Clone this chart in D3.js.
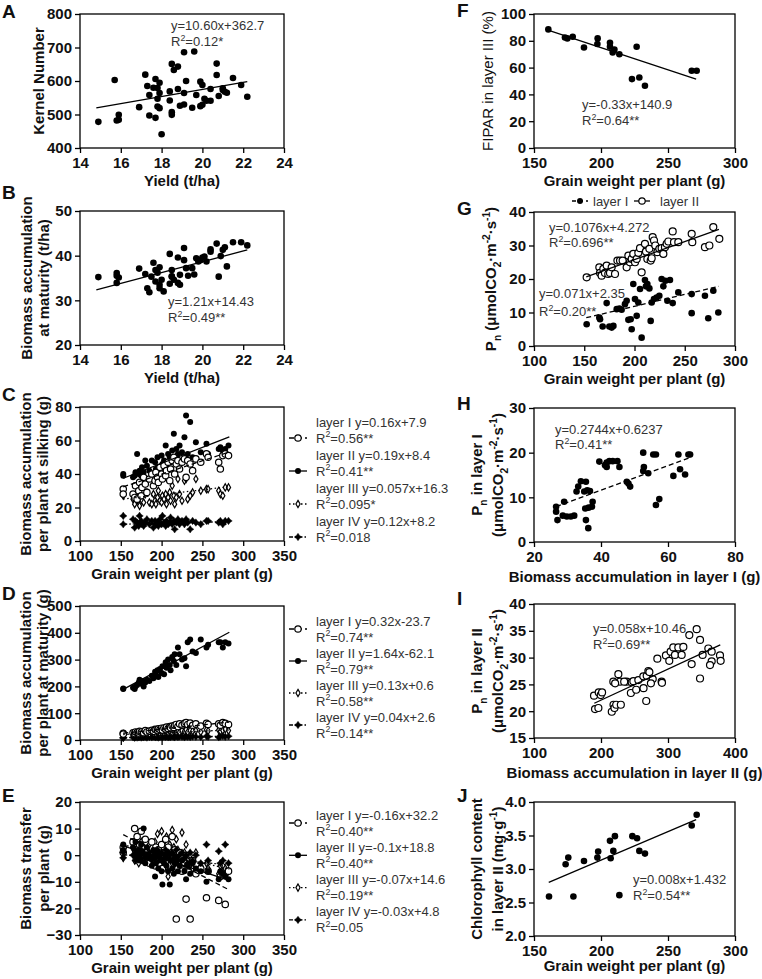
<!DOCTYPE html>
<html><head><meta charset="utf-8">
<script src="https://cdn.jsdelivr.net/npm/d3@7"></script>
<style>body{margin:0;background:#fff}</style>
</head><body><svg id="chart" width="762" height="979"></svg>
<script>
// ---------------- DATA ----------------
const aYield = [14.9,15.7,15.8,15.9,15.9,16.9,17.2,17.3,17.4,17.4,17.6,17.7,17.7,17.8,17.8,17.8,17.9,17.9,17.9,18.0,18.4,18.4,18.5,18.5,18.5,18.6,18.8,18.8,18.9,19.1,19.1,19.1,19.2,19.5,19.6,19.7,19.9,19.9,20.0,20.0,20.1,20.2,20.4,20.4,20.7,20.7,20.8,21.0,21.0,21.1,21.2,21.5,21.9,22.2];
const aKernel = [478,603,482,484,499,522,619,585,558,497,580,606,490,579,524,547,595,519,564,441,569,542,507,499,651,633,643,576,526,530,564,686,600,520,688,558,525,598,588,529,547,541,576,541,618,652,555,578,573,568,565,609,588,553];
const bYield = [14.9,15.8,15.8,15.9,15.8,16.9,17.2,17.3,17.4,17.5,17.6,17.7,17.7,17.8,17.9,17.9,17.9,18.0,18.1,18.4,18.4,18.5,18.5,18.5,18.6,18.8,18.8,18.9,18.9,19.1,19.1,19.2,19.3,19.5,19.6,19.7,19.8,19.9,20.0,20.1,20.2,20.4,20.4,20.7,20.8,20.9,21.0,21.1,21.2,21.5,21.9,22.2];
const bBiomass = [35.2,35.5,36.1,35.1,33.9,37.1,35.9,32.7,31.8,35.3,38.4,36.8,34.2,36.2,37.4,32.7,33.5,34.6,32.0,33.7,40.4,35.3,36.8,35.4,34.6,39.6,33.9,33.5,35.7,41.7,39.0,37.2,35.5,37.2,35.8,39.4,38.7,39.0,39.6,39.8,38.7,40.9,41.4,42.7,35.3,39.9,41.3,41.9,37.6,43.0,43.0,42.3];

// grain weight per plant shared by panels C-E
const gw = [153,153,165,167,168,170,172,173,175,176,178,180,182,185,188,190,192,193,195,196,198,200,201,203,205,206,208,210,211,213,215,216,218,220,222,225,228,230,232,235,238,242,248,255,257,270,272,275,278,282];
const cL1 = [31,28,28,26,33,25,30,35,27,32,38,34,29,37,40,33,36,41,38,35,44,40,37,45,39,42,47,36,43,48,50,40,46,48,43,47,49,38,48,46,42,49,47,52,50,47,43,51,52,51];
const cL2 = [39,40,38,39,41,52,40,42,39,44,41,48,45,42,48,40,47,43,50,44,42,51,46,48,57,44,52,50,47,54,64,48,55,52,57,53,62,75,52,71,50,59,53,58,52,55,56,54,55,57];
const cL3 = [29,27,25,22,26,24,27,21,26,24,23,28,29,23,22,28,24,22,26,30,24,23,27,25,28,22,26,29,24,33,27,22,26,37,28,24,36,37,25,27,29,37,30,31,31,30,28,27,32,32];
const cL4 = [15,10,13,8,12,11,9,15,12,10,9,11,13,10,12,8,12,10,11,9,13,10,15,11,9,12,10,11,14,10,12,7,11,13,10,12,10,13,11,7,12,11,10,12,12,11,12,10,12,12];
const dL1 = [25,22,27,24,30,28,26,32,29,31,27,35,30,33,36,32,40,38,35,42,39,44,37,45,41,48,43,50,46,52,47,55,58,50,60,55,62,65,58,63,55,60,52,62,58,60,55,65,62,58];
const dL2 = [190,192,195,190,200,205,215,225,210,220,200,215,225,220,240,230,255,245,260,235,265,250,275,245,290,270,300,280,260,310,295,320,280,345,320,300,305,275,365,375,330,325,375,345,355,365,365,345,365,360];
const dL3 = [22,18,20,23,22,19,24,21,23,25,22,26,24,23,27,25,28,24,27,30,26,28,32,27,29,31,28,33,30,28,32,35,30,33,29,35,32,38,30,36,33,35,30,38,34,37,33,36,40,35];
const dL4 = [9,7,10,8,11,9,10,12,9,11,10,12,9,11,10,13,11,10,12,9,11,13,10,12,11,14,10,12,11,13,12,10,14,11,13,12,10,14,12,11,13,12,11,14,12,10,13,15,12,14];
const eL1 = [3,1,5,10,2,7,-1,4,9,3,-2,6,1,-3,5,0,-4,3,-1,2,-3,4,-5,1,6,-2,3,-4,0,7,-3,2,-24,-5,1,-6,-3,-16.5,-4,-24,-2,-7,-5,-16,-6,-17,-8,-7,-18.5,-6];
const eL2 = [4,2,3,0,5,-1,2,-2,4,1,10,-3,3,-1,-4,2,-8,-3,1,-5,-2,-6,-11,-3,0,-4,-6,-11,-2,-5,-7,-3,-1,-6,-4,-2,-6,-9,-4,-7,-3,-5,-6,-10,-6,-9,-6,-7,-8,-9];
const eL3 = [2,-1,3,-2,4,1,-3,2,5,-1,3,0,-2,4,1,-3,5,2,8,-1,3,9,0,5,-2,7,-8,4,1,9.5,3,-1,6,2,-3,8.5,1,4,-2,0,-5,1,-4,-3,-5,-7,-4,-6,-5,-6];
const eL4 = [1,-1,0,2,-2,1,-1,0,2,-2,1,-1,0,1,-2,0,1,-1,2,0,-1,1,-2,0,2,-1,1,0,-2,1,0,-1,2,-2,0,1,-1,0,-3,1,-2,0,-3,4,-2,1.5,-3,-2,4,-3];

const fGW = [160.7,173.1,174.9,178.9,187.3,197.5,197.3,206.7,206.7,208.7,210,213.7,223.1,226.6,228.6,232.8,267.7,271.4];
const fFIPAR = [88.5,82.5,81.8,83,75,81.8,77.6,78.5,75.6,71.3,73.5,70,51.4,75.6,52.6,46.4,57.6,57.6];

const gGW1 = [152.4,165,165.7,168.3,172.3,175,177.3,179,182.3,185,187.2,190.5,192.2,193.9,196.2,197.2,198.8,200.5,202.2,203.8,205.5,207.1,210.4,211.4,212.8,214.8,216.1,217.1,219.4,222,224.7,227,228.7,230.7,232.7,235.3,238,243.6,256.9,256.9,270.1,273.4,278.4,283.4];
const gPn1 = [6.5,8.5,8,5.8,12.8,5.8,5.5,6,11,11.2,10.8,12.5,13.5,7.8,8,5,18.5,14,9,13,17,2.5,19.7,17.8,18.5,17.2,7.5,13,14,14.5,15,20,17.8,19.5,13.5,19.7,12.8,16,15.5,9.8,15,8.3,16.5,10];
const gGW2 = [152.4,165,165.7,167.3,169,170.6,172.3,173.9,175.6,177.3,180.6,183,185.6,188.2,192.2,193.9,195.5,197.2,198.8,200.5,202.2,203.8,205.5,207.1,210.4,211.4,212.8,214.8,216.1,217.1,218.1,219.4,220.7,222.7,224.7,227,228.7,230.3,232,233.7,238,239.3,243.6,256.9,257.5,270.1,274.5,278.4,284.4];
const gPn2 = [20.5,23.5,21.8,21,23,21.8,24,21.5,21.8,23.5,21.5,25.5,25.5,25.5,23.5,27,25,26,27.5,25,26,27.8,29.2,22,30.5,28.2,26,29,25.5,26.2,32.5,31.5,30,28,29,29.2,27.5,29.5,30.5,31.2,34.2,31,31,33.5,31,29.5,30,35.5,32];

const hBio = [26.6,29,32.7,33.2,34,35.5,35,35.9,36.7,37.5,35.3,36.3,37.3,39.5,41.2,41.7,42.5,43.5,44.9,45.5,41.7,47.7,48.2,48.7,52.6,52.8,52.6,54.1,55.6,56.4,56.4,57.4,61.6,63.1,63.6,65.1,66.1,66.6,26.6,27,28.6,29.8,31,32,35.5,36.2];
const hPn = [7.9,9.0,11.3,12.4,13.6,13.5,11.3,11.6,11.4,9.0,7.5,7.7,7.9,18,17.2,17.8,18.1,18.1,18.1,16.8,16.8,13.5,13.1,12.4,20,16.8,15.9,15.4,19.6,19.6,8.3,9.6,14.8,19.6,16.3,15.1,19.6,19.6,6.8,4.9,5.9,5.7,5.7,5.9,4.9,3.1];

const iBio = [225.9,218.4,228.4,238.3,245.8,248.3,255.7,263.2,268.2,270.7,272.2,277.2,284.1,290.5,296.9,301.9,303.9,307.9,310.4,315.4,320.4,322.9,331.8,335.3,342.8,347.8,347.8,351.7,360.2,365.2,365.2,362.7,377.6,378.6,189.6,191.1,196.1,196.6,199.6,201.6,216.1,218.7,220.1,222.7,229.6,221.1,234.6,244.6,252.5,263.5,267.5,274.5,291];
const iPn = [26.9,25.5,25.5,25.5,25.4,25.6,25.8,26.5,26.6,27.5,27.3,26.0,29.8,25.5,30.4,29.4,31.1,31.9,30.5,31.9,30.5,32.0,34.2,28.8,35.3,33.3,26.1,30.5,31.7,31.1,29.3,28.6,30.4,29.4,22.9,20.4,20.6,23.5,23.0,23.5,19.9,21.2,20.6,21.2,21.2,25.2,25.5,23.4,24.0,24.3,21.9,25.2,25.3];

const jGW = [161.2,173.6,175.6,179.4,187.3,197.9,197.3,206.7,207.2,209.2,210.4,213.7,223.4,226.9,228.6,232.8,267.7,271.4];
const jChl = [2.59,3.07,3.17,2.59,3.12,3.26,3.17,3.42,3.16,3.27,3.49,2.61,3.49,3.46,3.27,3.23,3.65,3.81];

// fitted lines as drawn: [slope, intercept, xStart, xEnd]
const fitA = [10.60, 362.7, 14.8, 22.2];
const fitB = [1.21, 14.43, 14.8, 22.2];
const fitC = [[0.16,7.9,153,283],[0.19,8.4,153,283],[0.057,16.3,153,283],[0.012,8.2,153,283]];
const fitD = [[0.32,-23.7,153,283],[1.64,-62.1,153,283],[0.13,0.6,153,283],[0.04,2.6,153,283]];
const fitE = [[-0.16,32.2,153,283],[-0.1,18.8,153,283],[-0.07,14.6,153,283],[-0.03,4.8,153,283]];
const fitF = [-0.33, 140.9, 161, 271];
const fitG = [[0.071,-2.35,152,284],[0.1076,4.272,152,284]];
const fitH = [0.2744, 0.6237, 26.6, 66.6];
const fitI = [0.058, 10.46, 190, 378];
const fitJ = [0.0085, 1.432, 161, 271];

// labels
const layerNames = ["layer I","layer II","layer III","layer IV"];
const cEq = ["y=0.16x+7.9","y=0.19x+8.4","y=0.057x+16.3","y=0.12x+8.2"];
const cR2 = ["0.56**","0.41**","0.095*","0.018"];
const dEq = ["y=0.32x-23.7","y=1.64x-62.1","y=0.13x+0.6","y=0.04x+2.6"];
const dR2 = ["0.74**","0.79**","0.58**","0.14**"];
const eEq = ["y=-0.16x+32.2","y=-0.1x+18.8","y=-0.07x+14.6","y=-0.03x+4.8"];
const eR2 = ["0.40**","0.40**","0.19**","0.05"];

// ---------------- DRAWING ----------------
const FONT = '"Liberation Sans", Arial, Helvetica, sans-serif';
const svg = d3.select('#chart').attr('font-family', FONT);

const star4 = { draw(ctx, size) { const r = Math.sqrt(size) * 0.8, w = r * 0.42;
  ctx.moveTo(0,-r); ctx.lineTo(w,-w); ctx.lineTo(r,0); ctx.lineTo(w,w); ctx.lineTo(0,r);
  ctx.lineTo(-w,w); ctx.lineTo(-r,0); ctx.lineTo(-w,-w); ctx.closePath(); } };

function marker(g, type, cx, cy, small) {
  const r = small ? 3.0 : 3.3;
  if (type === 'dot') g.append('circle').attr('cx',cx).attr('cy',cy).attr('r',r).attr('fill','#000');
  else if (type === 'ring') g.append('circle').attr('cx',cx).attr('cy',cy).attr('r',r+0.2).attr('fill','#fff').attr('stroke','#000').attr('stroke-width',1.2);
  else if (type === 'dia') g.append('path').attr('d', d3.symbol(d3.symbolDiamond, 15)()).attr('transform',`translate(${cx},${cy})`).attr('fill','#fff').attr('stroke','#000').attr('stroke-width',1.2);
  else if (type === 'star') g.append('path').attr('d', d3.symbol(star4, 22)()).attr('transform',`translate(${cx},${cy})`).attr('fill','#000').attr('stroke','#000').attr('stroke-width',0.4);
}

function rich(sel, parts, size) {
  let cur = 0;
  parts.forEach(p => {
    const t = p[0], k = p[1] || 'n';
    const off = k === 'sup' ? -0.42*size : k === 'sub' ? 0.3*size : 0;
    sel.append('tspan').attr('dy', (off-cur).toFixed(2)).attr('font-size', k === 'n' ? size : size*0.68).text(t);
    cur = off;
  });
  return sel;
}
function styleAxis(sel) {
  sel.select('.domain').remove();
  sel.selectAll('.tick line').attr('stroke','#000').attr('stroke-width',1.3);
  sel.selectAll('.tick text').attr('font-family',FONT).attr('font-size',15).attr('font-weight','bold').attr('fill','#111');
}
function label(x, y, parts, opts={}) {
  const t = svg.append('text').attr('x',x).attr('y',y).attr('fill', opts.fill || '#333')
    .attr('font-size', opts.size || 13).attr('font-weight', opts.bold ? 'bold' : 'normal');
  if (opts.anchor) t.attr('text-anchor', opts.anchor);
  return rich(t, parts, opts.size || 13);
}
function yTitle(cx, cy, parts, bold=true) {
  const t = svg.append('text').attr('transform',`translate(${cx},${cy}) rotate(-90)`)
    .attr('text-anchor','middle').attr('y', 5.2).attr('font-size',15)
    .attr('font-weight', bold ? 'bold' : 'normal').attr('fill','#111');
  rich(t, parts, 15);
}
const dashOf = {I:'5,3', II:null, III:'1.5,2.5', IV:'4,2,1.5,2'};

function panel(p) {
  const x = d3.scaleLinear().domain(p.xd).range([p.l, p.r]);
  const y = d3.scaleLinear().domain(p.yd).range([p.b, p.t]);
  const g = svg.append('g');
  g.append('g').attr('transform',`translate(0,${p.b})`)
    .call(d3.axisBottom(x).tickValues(p.xt).tickSize(5).tickPadding(4).tickFormat(p.xf || d3.format('d'))).call(styleAxis);
  g.append('g').attr('transform',`translate(${p.l},0)`)
    .call(d3.axisLeft(y).tickValues(p.yt).tickSize(5).tickPadding(3).tickFormat(p.yf || d3.format('d'))).call(styleAxis);
  g.append('rect').attr('x',p.l).attr('y',p.t).attr('width',p.r-p.l).attr('height',p.b-p.t)
    .attr('fill','none').attr('stroke','#000').attr('stroke-width',1.3);
  const pts = g.append('g');
  p.series.forEach(s => s.xs.forEach((v,i) => marker(pts, s.m, x(v), y(s.ys[i]), p.small)));
  p.series.forEach(s => {
    if (!s.fit) return;
    const f = s.fit;
    g.append('line').attr('x1', x(f[2])).attr('y1', y(f[0]*f[2]+f[1]))
      .attr('x2', x(f[3])).attr('y2', y(f[0]*f[3]+f[1]))
      .attr('stroke','#000').attr('stroke-width',1.3).attr('stroke-dasharray', s.dash);
  });
  svg.append('text').attr('x',(p.l+p.r)/2).attr('y',p.b+(p.xtY||38)).attr('text-anchor','middle')
    .attr('font-size',15).attr('font-weight','bold').attr('fill','#111').text(p.xTitle);
  svg.append('text').attr('x',p.letter[1]).attr('y',p.letter[2]).attr('font-size',19)
    .attr('font-weight','bold').attr('fill','#111').text(p.letter[0]);
  const cy = (p.t+p.b)/2;
  p.yTitles.forEach(yt => yTitle(yt[0], cy, yt[1], yt[2] !== false));
  return {x, y};
}
function legendLayers(eqs, r2s, types, y0, step, onR2) {
  const keys = ['I','II','III','IV'];
  eqs.forEach((eq, i) => {
    const by = y0 + i*step;
    label(316, by, [[layerNames[i] + ' ' + eq]]);
    label(316, by+16, [['R'],['2','sup'],['='+r2s[i]]]);
    const my = onR2 ? by + 11.5 : by + 3.5;
    svg.append('line').attr('x1',289).attr('x2',307).attr('y1',my).attr('y2',my)
      .attr('stroke','#000').attr('stroke-width',1.3).attr('stroke-dasharray', dashOf[keys[i]]);
    marker(svg, types[i], 298, my, true);
  });
}

const LL = 80, LR = 284, RL = 534, RR = 735;
const yr = d => d3.range(d[0], d[1]+1e-9, d[2]);
const pmol = [[' (μmolCO'],['2','sub'],['·m'],['-2','sup'],['·s'],['-1','sup'],[')']];
const pmol2 = [['(μmolCO'],['2','sub'],['·m'],['-2','sup'],['·s'],['-1','sup'],[')']];

// A
panel({l:LL,r:LR,t:14,b:148,xd:[14,24],xt:yr([14,24,2]),yd:[400,800],yt:yr([400,800,100]),
  series:[{xs:aYield,ys:aKernel,m:'dot',fit:fitA,dash:null}], xTitle:'Yield (t/ha)', letter:['A',2,18],
  yTitles:[[39,[['Kernel Number']]]]});
label(171,30,[['y=10.60x+362.7']]); label(171,46,[['R'],['2','sup'],['=0.12*']]);
// B
panel({l:LL,r:LR,t:211,b:345,xd:[14,24],xt:yr([14,24,2]),yd:[20,50],yt:yr([20,50,10]),
  series:[{xs:bYield,ys:bBiomass,m:'dot',fit:fitB,dash:null}], xTitle:'Yield (t/ha)', letter:['B',2,199],
  yTitles:[[27,[['Biomass accumulation']]],[44,[['at maturity (t/ha)']]]]});
label(168,306,[['y=1.21x+14.43']]); label(168,322,[['R'],['2','sup'],['=0.49**']]);
// C
const types = ['ring','dot','dia','star'], keysL = ['I','II','III','IV'];
function layerSeries(arrs, fits, order) { return order.map(i => ({xs:gw, ys:arrs[i], m:types[i], fit:fits[i], dash:dashOf[keysL[i]]})); }
panel({l:LL,r:LR,t:407,b:541,xd:[100,350],xt:yr([100,350,50]),yd:[0,80],yt:yr([0,80,20]),small:true,
  series:layerSeries([cL1,cL2,cL3,cL4],fitC,[1,3,2,0]), xTitle:'Grain weight per plant (g)', letter:['C',2,401],
  yTitles:[[26,[['Biomass accumulation']]],[43,[['per plant at silking (g)']]]]});
legendLayers(cEq,cR2,types,426.5,33,true);
// D
panel({l:LL,r:LR,t:606,b:740,xd:[100,350],xt:yr([100,350,50]),yd:[0,500],yt:yr([0,500,100]),small:true,
  series:layerSeries([dL1,dL2,dL3,dL4],fitD,[1,3,2,0]), xTitle:'Grain weight per plant (g)', letter:['D',2,600],
  yTitles:[[26,[['Biomass accumulation']]],[43,[['per plant at maturity (g)']]]]});
legendLayers(dEq,dR2,types,625.5,32,false);
// E
panel({l:LL,r:LR,t:802,b:935,xd:[100,350],xt:yr([100,350,50]),yd:[-30,20],yt:yr([-30,20,10]),small:true,
  series:layerSeries([eL1,eL2,eL3,eL4],fitE,[2,0,3,1]), xTitle:'Grain weight per plant (g)', letter:['E',2,802],
  yTitles:[[26,[['Biomass transfer']]],[44,[['per plant (g)']]]]});
legendLayers(eEq,eR2,types,819.5,32.3,false);
// F
panel({l:RL,r:RR,t:14,b:148,xd:[150,300],xt:yr([150,300,50]),yd:[0,100],yt:yr([0,100,20]),
  series:[{xs:fGW,ys:fFIPAR,m:'dot',fit:fitF,dash:null}], xTitle:'Grain weight per plant (g)', letter:['F',457,17],
  yTitles:[[488,[['FIPAR in layer III (%)']],false]]});
label(582,109,[['y=-0.33x+140.9']]); label(582,125,[['R'],['2','sup'],['=0.64**']]);
// G
panel({l:RL,r:RR,t:212,b:346,xd:[100,300],xt:yr([100,300,50]),yd:[0,40],yt:yr([0,40,10]),
  series:[{xs:gGW1,ys:gPn1,m:'dot',fit:fitG[0],dash:'5,3'},{xs:gGW2,ys:gPn2,m:'ring',fit:fitG[1],dash:null}],
  xTitle:'Grain weight per plant (g)', letter:['G',457,215],
  yTitles:[[491,[['P'],['n','sub']].concat(pmol)]]});
label(549,232,[['y=0.1076x+4.272']]); label(549,247,[['R'],['2','sup'],['=0.696**']]);
label(539,298,[['y=0.071x+2.35']]); label(539,316,[['R'],['2','sup'],['=0.20**']]);
// G legend
svg.append('line').attr('x1',572).attr('x2',588).attr('y1',201).attr('y2',201).attr('stroke','#000').attr('stroke-width',1.3).attr('stroke-dasharray','4,3');
marker(svg,'dot',580,201,true);
label(593,206,[['layer I']]);
svg.append('line').attr('x1',634).attr('x2',650).attr('y1',201).attr('y2',201).attr('stroke','#000').attr('stroke-width',1.3);
marker(svg,'ring',642,201,true);
label(660,206,[['layer II']]);
// H
panel({l:RL,r:RR,t:408,b:542,xd:[20,80],xt:yr([20,80,20]),yd:[0,30],yt:yr([0,30,10]),
  series:[{xs:hBio,ys:hPn,m:'dot',fit:fitH,dash:'5,3'}], xTitle:'Biomass accumulation in layer I (g)', xtY:40, letter:['H',457,410],
  yTitles:[[477,[['P'],['n','sub'],[' in layer I']]],[498,pmol2]]});
label(555,434,[['y=0.2744x+0.6237']]); label(555,449,[['R'],['2','sup'],['=0.41**']]);
// I
panel({l:RL,r:RR,t:604,b:738,xd:[100,400],xt:yr([100,400,100]),yd:[15,40],yt:yr([15,40,5]),
  series:[{xs:iBio,ys:iPn,m:'ring',fit:fitI,dash:null}], xTitle:'Biomass accumulation in layer II (g)', xtY:40, letter:['I',457,605],
  yTitles:[[477,[['P'],['n','sub'],[' in layer II']]],[498,pmol2]]});
label(593,633,[['y=0.058x+10.46']]); label(593,649,[['R'],['2','sup'],['=0.69**']]);
// J
panel({l:RL,r:RR,t:802,b:936,xd:[150,300],xt:yr([150,300,50]),yd:[2,4],yt:yr([2,4,0.5]),yf:d3.format('.1f'),
  series:[{xs:jGW,ys:jChl,m:'dot',fit:fitJ,dash:null}], xTitle:'Grain weight per plant (g)', xtY:35, letter:['J',457,802],
  yTitles:[[477,[['Chlorophyll content']]],[498,[['in layer II (mg·g'],['-1','sup'],[')']]]]});
label(633,884,[['y=0.008x+1.432']]); label(633,900,[['R'],['2','sup'],['=0.54**']]);
</script></body></html>
